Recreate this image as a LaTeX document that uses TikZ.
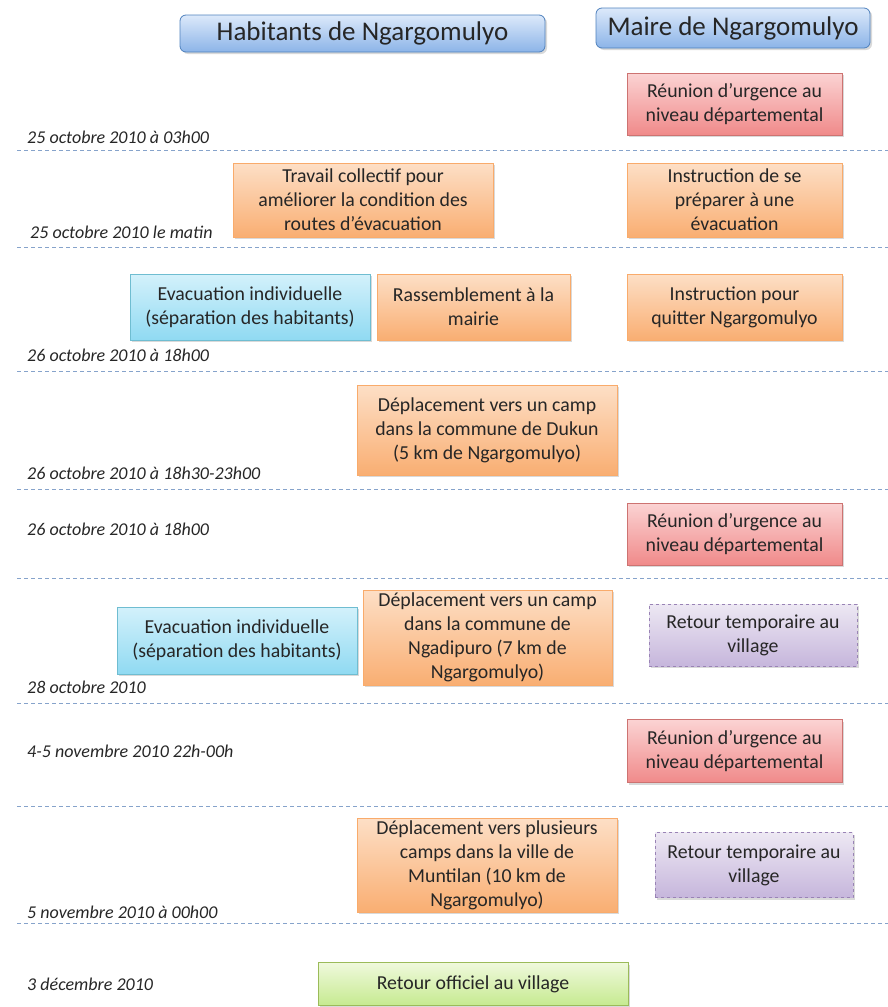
\documentclass[tikz,border=0pt]{standalone}
\usepackage{fontspec}
\setmainfont{Carlito}
\usepackage{xcolor}
\usetikzlibrary{shadows}

\definecolor{hdrtop}{HTML}{DCE9FA}
\definecolor{hdrbot}{HTML}{8CB4E8}
\definecolor{hdrline}{HTML}{4F81BD}
\definecolor{orgtop}{HTML}{FDDFC6}
\definecolor{orgbot}{HTML}{F9AE72}
\definecolor{orgline}{HTML}{F79646}
\definecolor{redtop}{HTML}{FBD3D3}
\definecolor{redbot}{HTML}{F08A8A}
\definecolor{redline}{HTML}{C0504D}
\definecolor{blutop}{HTML}{D3F1FB}
\definecolor{blubot}{HTML}{90DAF2}
\definecolor{bluline}{HTML}{4BACC6}
\definecolor{purtop}{HTML}{EDE8F3}
\definecolor{purbot}{HTML}{C6B6DC}
\definecolor{purline}{HTML}{8064A2}
\definecolor{grntop}{HTML}{EFF9DC}
\definecolor{grnbot}{HTML}{C6EA90}
\definecolor{grnline}{HTML}{9BBB59}
\definecolor{sepline}{HTML}{86A3CB}

\begin{document}
\begin{tikzpicture}[x=1pt, y=-1pt,
  every node/.style={font=\fontsize{19.8}{24}\selectfont, text=black!85},
  box/.style={draw, line width=0.8pt, align=center, inner sep=1pt,
    drop shadow={opacity=0.3, shadow xshift=2pt, shadow yshift=-2pt}},
  header/.style={box, rounded corners=6pt, draw=hdrline, top color=hdrtop, bottom color=hdrbot},
  orangebox/.style={box, draw=orgline!80, top color=orgtop, bottom color=orgbot},
  redbox/.style={box, draw=redline!80, top color=redtop, bottom color=redbot},
  bluebox/.style={box, draw=bluline!80, top color=blutop, bottom color=blubot},
  purplebox/.style={box, draw=purline!80, dashed, top color=purtop, bottom color=purbot},
  greenbox/.style={box, draw=grnline, top color=grntop, bottom color=grnbot},
  datelabel/.style={anchor=west, inner sep=0pt, font=\fontsize{18}{21}\selectfont\itshape}]
  \useasboundingbox (0,0) rectangle (888,1007);

  % headers
  \node[header, font=\fontsize{27}{30}\selectfont, minimum width=365, minimum height=37]
       (habitants) at (362.5,33.5) {Habitants de Ngargomulyo};
  \node[header, font=\fontsize{27}{30}\selectfont, minimum width=274, minimum height=40]
       (maire) at (733,28) {Maire de Ngargomulyo};

  % time separators
  \foreach \y in {150,247,371,489,578,703,806,923} {
    \draw[sepline, line width=0.9pt, dash pattern=on 4pt off 3pt] (17,\y) -- (888,\y);
  }

  % 25 octobre, 03h00
  \node[datelabel] (d1) at (27,137) {25 octobre 2010 à 03h00};
  \node[redbox, minimum width=215, minimum height=62] (reunion1) at (734.5,104)
       {Réunion d’urgence au\\niveau départemental};

  % 25 octobre, matin
  \node[datelabel] (d2) at (30,232) {25 octobre 2010 le matin};
  \node[orangebox, minimum width=260, minimum height=74] (travail) at (363,200)
       {Travail collectif pour\\améliorer la condition des\\routes d’évacuation};
  \node[orangebox, minimum width=215, minimum height=74] (prepare) at (734.5,200)
       {Instruction de se\\préparer à une\\évacuation};

  % 26 octobre, 18h00
  \node[datelabel] (d3) at (27,355) {26 octobre 2010 à 18h00};
  \node[bluebox, minimum width=240, minimum height=66] (indiv1) at (250,307)
       {Evacuation individuelle\\(séparation des habitants)};
  \node[orangebox, minimum width=193, minimum height=66] (rassemble) at (473.5,307)
       {Rassemblement à la\\mairie};
  \node[orangebox, minimum width=215, minimum height=66] (quitter) at (734.5,307)
       {Instruction pour\\quitter Ngargomulyo};

  % 26 octobre, 18h30-23h00
  \node[datelabel] (d4) at (27,473) {26 octobre 2010 à 18h30-23h00};
  \node[orangebox, minimum width=260, minimum height=90] (dukun) at (487,430)
       {Déplacement vers un camp\\dans la commune de Dukun\\(5 km de Ngargomulyo)};

  % 26 octobre, 18h00 (bis)
  \node[datelabel] (d5) at (27,529) {26 octobre 2010 à 18h00};
  \node[redbox, minimum width=215, minimum height=62] (reunion2) at (734.5,534)
       {Réunion d’urgence au\\niveau départemental};

  % 28 octobre
  \node[datelabel] (d6) at (27,687) {28 octobre 2010};
  \node[bluebox, minimum width=240, minimum height=67] (indiv2) at (237,640.5)
       {Evacuation individuelle\\(séparation des habitants)};
  \node[orangebox, minimum width=249, minimum height=95] (ngadipuro) at (487.5,637.5)
       {Déplacement vers un camp\\dans la commune de\\Ngadipuro (7 km de\\Ngargomulyo)};
  \node[purplebox, minimum width=208, minimum height=62] (retour1) at (753,635)
       {Retour temporaire au\\village};

  % 4-5 novembre
  \node[datelabel] (d7) at (27,751) {4-5 novembre 2010 22h-00h};
  \node[redbox, minimum width=215, minimum height=63] (reunion3) at (734.5,751)
       {Réunion d’urgence au\\niveau départemental};

  % 5 novembre, 00h00
  \node[datelabel] (d8) at (27,912) {5 novembre 2010 à 00h00};
  \node[orangebox, minimum width=260, minimum height=94] (muntilan) at (487,865)
       {Déplacement vers plusieurs\\camps dans la ville de\\Muntilan (10 km de\\Ngargomulyo)};
  \node[purplebox, minimum width=198, minimum height=65] (retour2) at (754,865)
       {Retour temporaire au\\village};

  % 3 decembre
  \node[datelabel] (d9) at (27,984) {3 décembre 2010};
  \node[greenbox, minimum width=310, minimum height=43] (officiel) at (473,984)
       {Retour officiel au village};
\end{tikzpicture}
\end{document}
